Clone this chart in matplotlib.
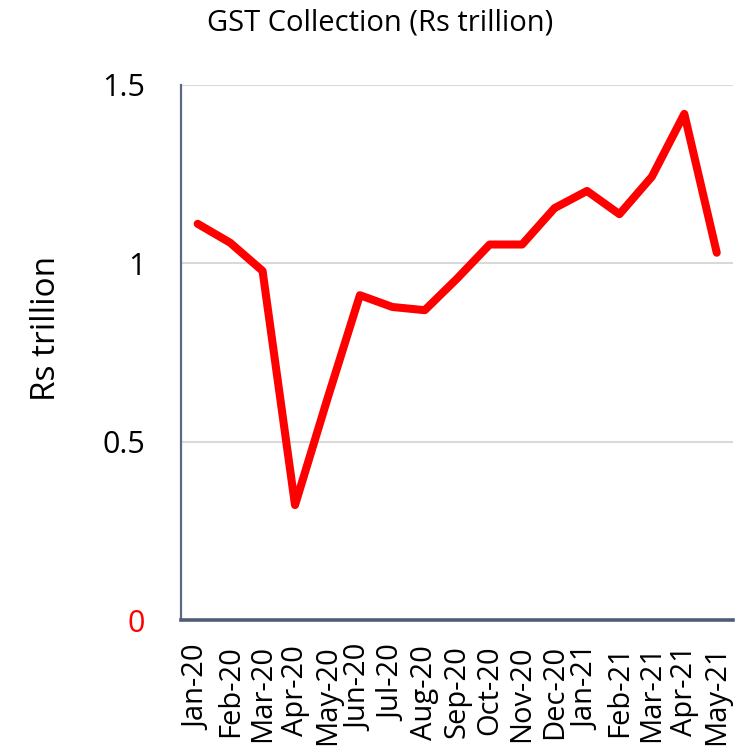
import matplotlib.pyplot as plt
import numpy as np

# GST collection by month, Rs trillion
months = ['Jan-20', 'Feb-20', 'Mar-20', 'Apr-20', 'May-20', 'Jun-20',
          'Jul-20', 'Aug-20', 'Sep-20', 'Oct-20', 'Nov-20', 'Dec-20',
          'Jan-21', 'Feb-21', 'Mar-21', 'Apr-21', 'May-21']
gst = [1.11, 1.057, 0.978, 0.322, 0.62, 0.91,
       0.877, 0.868, 0.957, 1.052, 1.052, 1.154,
       1.202, 1.137, 1.242, 1.418, 1.029]
yticks = [0, 0.5, 1, 1.5]
ytick_labels = ['0', '0.5', '1', '1.5']

plt.rcParams['font.family'] = ['Open Sans', 'DejaVu Sans']

fig = plt.figure(figsize=(7.53, 7.52), dpi=100)
ax = fig.add_axes([0.241, 0.1755, 0.7324, 0.712])

x = np.arange(len(months))
ax.plot(x, gst, color='#ff0000', lw=5.8, solid_joinstyle='round', solid_capstyle='round', zorder=3)

ax.set_xlim(-0.5, len(months) - 0.5)
ax.set_ylim(0, 1.5)
ax.set_yticks(yticks)
ax.set_yticklabels(ytick_labels, fontsize=22)
ax.get_yticklabels()[0].set_color('#ff0000')
ax.set_xticks(x)
ax.set_xticklabels(months, rotation=90, fontsize=21)
ax.tick_params(axis='both', length=0)
ax.tick_params(axis='y', pad=26)
ax.tick_params(axis='x', pad=18)

ax.grid(axis='y', color='#d9d9d9', lw=1.5)
ax.set_axisbelow(True)
for s in ['top', 'right']:
    ax.spines[s].set_visible(False)
ax.spines['left'].set_color('#5a6a80')
ax.spines['left'].set_linewidth(1.6)
ax.spines['bottom'].set_color('#4e5d75')
ax.spines['bottom'].set_linewidth(2.6)

ax.set_ylabel('Rs trillion', fontsize=24)
ax.yaxis.set_label_coords(-0.215, 0.545)
fig.text(0.505, 0.97, 'GST Collection (Rs trillion)', ha='center', va='center', fontsize=21)

fig.savefig('out.png', dpi=100)
